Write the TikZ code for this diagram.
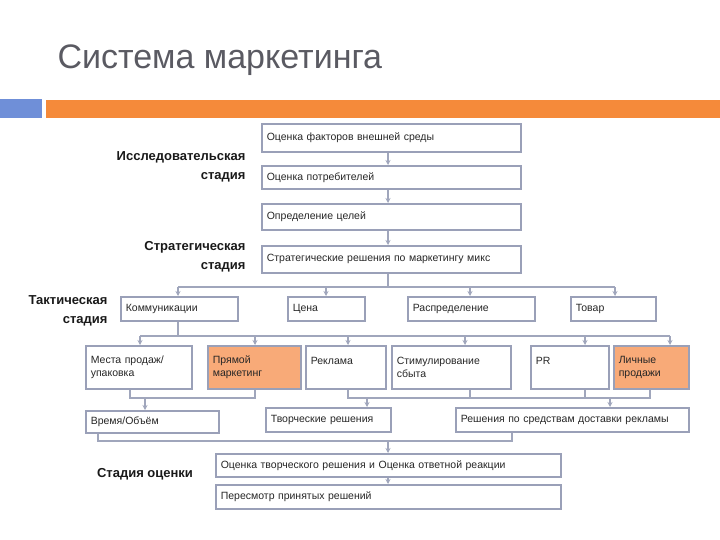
\documentclass[tikz,border=0pt]{standalone}
\usepackage{fontspec}
\setmainfont{Liberation Sans}
\usetikzlibrary{arrows.meta}
\definecolor{bx}{HTML}{9AA0B8}
\definecolor{ln}{HTML}{A0A6BC}
\definecolor{org}{HTML}{F58A3A}
\definecolor{blu}{HTML}{6F8FD8}
\definecolor{fillo}{HTML}{F8AA78}
\definecolor{ttl}{HTML}{5A5A62}
\tikzset{
 bxs/.style={draw=bx,line width=1.6pt,anchor=north west,inner xsep=5pt,inner ysep=3pt,align=left,font=\fontsize{10.5}{13}\selectfont,text=black!85},
 lnk/.style={draw=ln,line width=1.2pt},
 arr/.style={lnk,-{Stealth[length=5pt,width=5pt]}},
 stg/.style={font=\bfseries\fontsize{13}{19}\selectfont,align=right,anchor=east,text=black!90}
}
\newcommand{\bxnode}[6][]{\node[bxs,#1,minimum width=#4pt,minimum height=#5pt,text width=#4pt-10pt] (#2) at #3 {#6};}
\begin{document}
\begin{tikzpicture}[x=1pt,y=-1pt]
\useasboundingbox (0,0) rectangle (720,540);
\node[anchor=west,font=\fontsize{34}{40}\selectfont,text=ttl] (title) at (54,60) {Система маркетинга};
\fill[blu] (0,99) rectangle (42,118);
\fill[org] (46,100) rectangle (720,118);
% stage labels
\node[stg] (s1) at (249,167) {Исследовательская\\стадия};
\node[stg] (s2) at (249,257) {Стратегическая\\стадия};
\node[stg] (s3) at (111,311) {Тактическая\\стадия};
\node[stg,anchor=center] (s4) at (145,474) {Стадия оценки};
% column
\bxnode{f1}{(261,123)}{259}{28}{Оценка факторов внешней среды}
\bxnode{f2}{(261,165)}{259}{23}{Оценка потребителей}
\bxnode{f3}{(261,203)}{259}{26}{Определение целей}
\bxnode{f4}{(261,245)}{259}{27}{Стратегические решения по маркетингу микс}
\draw[arr] (f1.south -| 388,0) -- (f2.north -| 388,0);
\draw[arr] (f2.south -| 388,0) -- (f3.north -| 388,0);
\draw[arr] (f3.south -| 388,0) -- (f4.north -| 388,0);
% row 2
\bxnode{k}{(120,296)}{117}{24}{Коммуникации}
\bxnode{c}{(287,296)}{77}{24}{Цена}
\bxnode{r}{(407,296)}{127}{24}{Распределение}
\bxnode{t}{(570,296)}{85}{24}{Товар}
\coordinate (b1) at (388,287);
\draw[lnk] (f4.south -| 388,0) -- (b1);
\draw[lnk] (178,287) -- (615,287);
\draw[arr] (178,287) -- (k.north -| 178,0);
\draw[arr] (326,287) -- (c.north -| 326,0);
\draw[arr] (470,287) -- (r.north -| 470,0);
\draw[arr] (615,287) -- (t.north -| 615,0);
% row 3
\bxnode{m}{(85,345)}{106}{43}{Места продаж/\\упаковка}
\bxnode[fill=fillo]{p}{(207,345)}{93}{43}{Прямой\\маркетинг}
\bxnode{rk}{(305,345)}{80}{43}{Реклама\\\mbox{}}
\bxnode{st}{(391,345)}{119}{43}{Стимулирование\\сбыта}
\bxnode{pr}{(530,345)}{78}{43}{PR\\\mbox{}}
\bxnode[fill=fillo]{lp}{(613,345)}{75}{43}{Личные\\продажи}
\draw[lnk] (k.south -| 178,0) -- (178,336);
\draw[lnk] (140,336) -- (670,336);
\draw[arr] (140,336) -- (m.north -| 140,0);
\draw[arr] (255,336) -- (p.north -| 255,0);
\draw[arr] (348,336) -- (rk.north -| 348,0);
\draw[arr] (465,336) -- (st.north -| 465,0);
\draw[arr] (585,336) -- (pr.north -| 585,0);
\draw[arr] (670,336) -- (lp.north -| 670,0);
% row 4
\bxnode{v}{(85,410)}{133}{22}{Время/Объём}
\bxnode{tr}{(265,407)}{125}{24}{Творческие решения}
\bxnode{rd}{(455,407)}{233}{24}{Решения по средствам доставки рекламы}
\draw[lnk] (m.south -| 130,0) -- (130,398) -- (255,398) -- (p.south -| 255,0);
\draw[arr] (145,398) -- (v.north -| 145,0);
\draw[lnk] (rk.south -| 348,0) -- (348,398) -- (470,398) -- (st.south -| 470,0);
\draw[arr] (367,398) -- (tr.north -| 367,0);
\draw[lnk] (st.south -| 470,0) -- (470,398) -- (650,398) -- (lp.south -| 650,0);
\draw[lnk] (pr.south -| 585,0) -- (585,398);
\draw[arr] (610,398) -- (rd.north -| 610,0);
% row 5-6
\bxnode{o}{(215,453)}{345}{23}{Оценка творческого решения и Оценка ответной реакции}
\bxnode{ps}{(215,484)}{345}{24}{Пересмотр принятых решений}
\draw[lnk] (v.south -| 98,0) -- (98,441) -- (512,441) -- (rd.south -| 512,0);
\draw[arr] (388,441) -- (o.north -| 388,0);
\draw[arr] (o.south -| 388,0) -- (ps.north -| 388,0);
\end{tikzpicture}
\end{document}
